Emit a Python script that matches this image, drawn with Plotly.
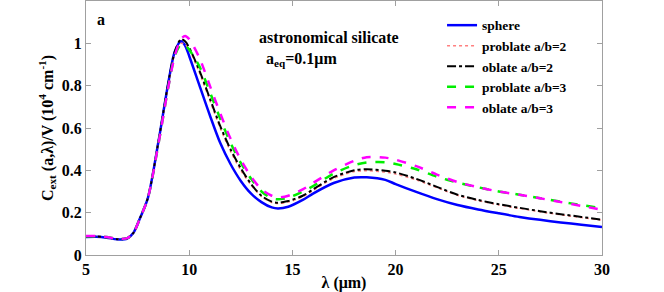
import plotly.graph_objects as go

# wavelength grid (um)
lam = [5, 5.5, 6, 6.5, 7, 7.3, 7.6, 8, 8.5, 9, 9.3, 9.6, 9.8, 10, 10.5, 11, 11.5, 12, 12.5,
       13, 13.5, 14, 14.3, 14.8, 15.5, 16, 17, 18, 18.6, 19.5, 20, 21, 22, 23, 24,
       25, 26, 27, 28, 29, 30]

sphere = [0.085, 0.086, 0.082, 0.074, 0.078, 0.105, 0.17, 0.27, 0.53, 0.82, 0.96, 1.01, 0.99,
          0.94, 0.80, 0.66, 0.53, 0.43, 0.35, 0.29, 0.25, 0.225, 0.22, 0.228, 0.26,
          0.29, 0.34, 0.366, 0.367, 0.355, 0.335, 0.298, 0.264, 0.236, 0.215, 0.197,
          0.18, 0.166, 0.154, 0.143, 0.132]
prolate2 = [0.087, 0.088, 0.084, 0.075, 0.079, 0.105, 0.17, 0.27, 0.53, 0.81, 0.95, 1.0, 0.995,
            0.97, 0.86, 0.73, 0.60, 0.49, 0.40, 0.33, 0.277, 0.248, 0.243, 0.25, 0.275,
            0.305, 0.362, 0.394, 0.398, 0.392, 0.383, 0.355, 0.318, 0.282, 0.257, 0.237,
            0.22, 0.204, 0.19, 0.177, 0.165]
oblate2 = [0.087, 0.088, 0.084, 0.075, 0.079, 0.105, 0.17, 0.27, 0.53, 0.82, 0.96, 1.02, 1.01,
           0.98, 0.87, 0.74, 0.61, 0.50, 0.41, 0.335, 0.28, 0.252, 0.247, 0.255, 0.28,
           0.31, 0.368, 0.40, 0.405, 0.398, 0.39, 0.36, 0.322, 0.285, 0.26, 0.24,
           0.223, 0.207, 0.193, 0.18, 0.167]
prolate3 = [0.088, 0.089, 0.085, 0.076, 0.08, 0.105, 0.17, 0.27, 0.52, 0.80, 0.94, 0.995, 0.99,
            0.97, 0.89, 0.77, 0.645, 0.53, 0.435, 0.36, 0.30, 0.268, 0.263, 0.27, 0.30,
            0.325, 0.385, 0.425, 0.437, 0.438, 0.43, 0.405, 0.37, 0.342, 0.32, 0.30,
            0.285, 0.268, 0.252, 0.236, 0.221]
oblate3 = [0.09, 0.09, 0.085, 0.077, 0.08, 0.105, 0.17, 0.27, 0.52, 0.80, 0.94, 1.02, 1.035,
           1.02, 0.93, 0.80, 0.67, 0.55, 0.45, 0.37, 0.31, 0.28, 0.272, 0.28, 0.31,
           0.34, 0.40, 0.445, 0.462, 0.46, 0.45, 0.42, 0.38, 0.345, 0.32, 0.30,
           0.285, 0.268, 0.25, 0.232, 0.214]

names = ["sphere", "problate a/b=2", "oblate a/b=2", "problate a/b=3", "oblate a/b=3"]
series = [sphere, prolate2, oblate2, prolate3, oblate3]
colors = ["#0000ff", "#ff8080", "#000000", "#00ee00", "#ff00ff"]
dashes = ["solid", "dot", "dashdot", "dash", "dash"]
widths = [2.5, 1.5, 2, 2.5, 2.5]

fig = go.Figure()
for n, s, c, d, w in zip(names, series, colors, dashes, widths):
    fig.add_trace(go.Scatter(x=lam, y=s, name="<b>" + n + "</b>", mode="lines",
                             line=dict(color=c, dash=d, width=w, shape="spline", smoothing=0.8)))

font_fam = "Liberation Serif"
F = dict(family=font_fam, size=16, color="black")
FL = dict(family=font_fam, size=13.5, color="black")
axis_common = dict(showline=True, linecolor="#a0a0a0", linewidth=1, mirror="ticks",
                   ticks="inside", ticklen=5, tickcolor="#a0a0a0", showgrid=False,
                   zeroline=False, tickfont=F)

fig.update_layout(
    width=664, height=292,
    margin=dict(l=86, r=62, t=1, b=37),
    paper_bgcolor="white", plot_bgcolor="white",
    showlegend=True,
    font=F,
    legend=dict(x=0.69, y=0.965, xanchor="left", yanchor="top", bgcolor="rgba(0,0,0,0)",
                font=FL, tracegroupgap=0, itemwidth=30),
    xaxis=dict(range=[5, 30], tickvals=[5, 10, 15, 20, 25, 30],
               ticktext=["<b>%d</b>" % v for v in [5, 10, 15, 20, 25, 30]],
               title=dict(text="<b>λ (μm)</b>", standoff=2, font=F),
               **axis_common),
    yaxis=dict(range=[0, 1.2], tickvals=[0, 0.2, 0.4, 0.6, 0.8, 1],
               ticktext=["<b>%s</b>" % t for t in ["0", "0.2", "0.4", "0.6", "0.8", "1"]],
               title=dict(text="<b>C<sub>ext</sub> (a,λ)/V (10<sup>4</sup> cm<sup>-1</sup>)</b>",
                          standoff=4, font=F),
               **axis_common),
)

fig.add_annotation(x=0.017, y=0.97, xref="paper", yref="paper", text="<b>a</b>",
                   showarrow=False, font=F)
fig.add_annotation(x=0.471, y=0.898, xref="paper", yref="paper",
                   text="<b>astronomical silicate</b>", showarrow=False, xanchor="center",
                   font=F)
fig.add_annotation(x=0.345, y=0.815, xref="paper", yref="paper",
                   text="<b>a<sub>eq</sub>=0.1μm</b>", showarrow=False, xanchor="left",
                   font=F)

fig.write_html("out.html", config={"displayModeBar": False},
               post_script="document.body.style.margin='0';")
